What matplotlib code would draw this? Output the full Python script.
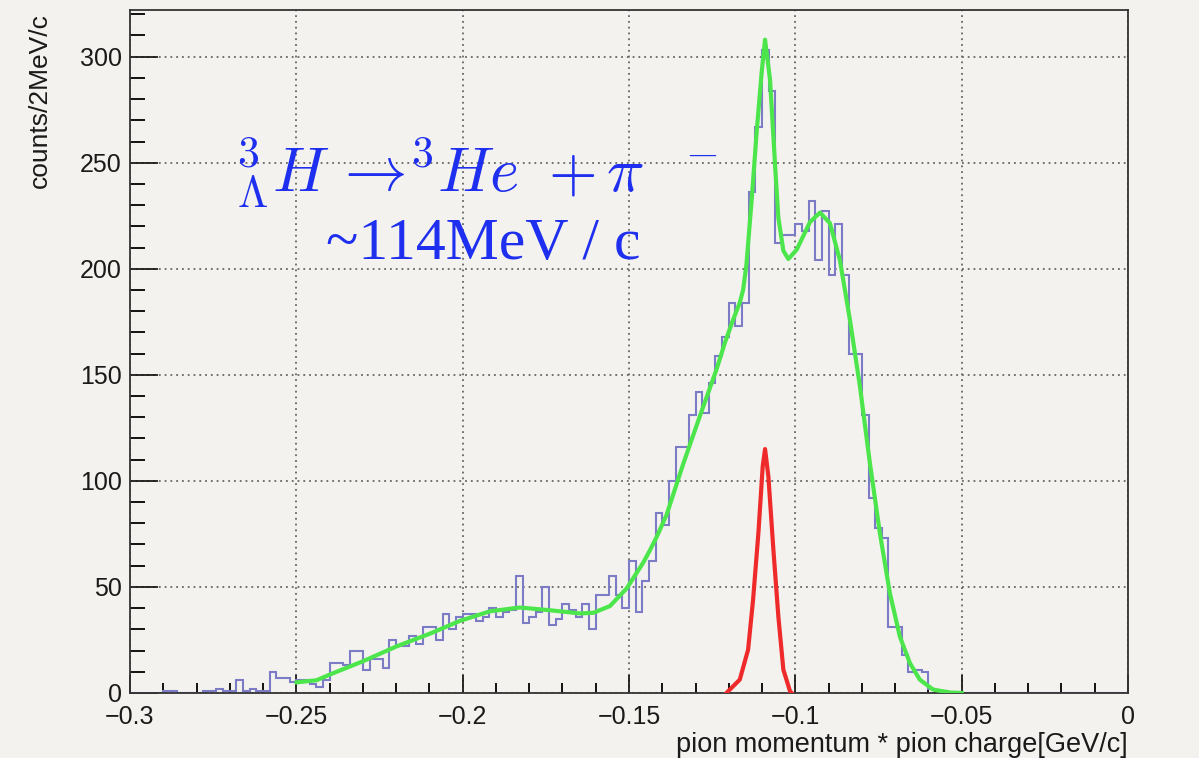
import numpy as np
import matplotlib.pyplot as plt
from matplotlib.ticker import MultipleLocator

# histogram: 150 bins of 2 MeV/c from -0.3 to 0 GeV/c
x_lo, x_hi, n_bins = -0.3, 0.0, 150
counts = [
    0, 0, 0, 0, 0, 1, 1, 0, 0, 0,
    0, 1, 1, 2, 1, 1, 6, 1, 2, 1,
    1, 10, 7, 7, 5, 6, 6, 4, 3, 6,
    14, 14, 13, 20, 20, 11, 16, 16, 12, 25,
    22, 22, 27, 23, 31, 31, 25, 37, 30, 36,
    37, 37, 34, 36, 40, 36, 38, 39, 55, 33,
    36, 38, 50, 32, 35, 42, 39, 36, 42, 30,
    46, 46, 55, 46, 40, 62, 38, 53, 62, 85,
    79, 100, 116, 116, 131, 142, 132, 146, 159, 168,
    184, 173, 184, 236, 267, 303, 284, 212, 216, 216,
    221, 218, 232, 204, 227, 197, 221, 197, 160, 160,
    131, 92, 78, 73, 31, 31, 18, 10, 11, 10,
    2, 1, 1, 0, 0, 0, 0, 0, 0, 0,
    0, 0, 0, 0, 0, 0, 0, 0, 0, 0,
    0, 0, 0, 0, 0, 0, 0, 0, 0, 0,
]

# total fit (green)
fit_x = [-0.2499, -0.2439, -0.2399, -0.2299, -0.2198, -0.2098, -0.2008, -0.1918,
         -0.1828, -0.1738, -0.1647, -0.1607, -0.1557, -0.1507, -0.1457, -0.1437,
         -0.1417, -0.1387, -0.1337, -0.1287, -0.1237, -0.1212, -0.1187, -0.1167,
         -0.1157, -0.1147, -0.1131, -0.1116, -0.1101, -0.1091, -0.1076, -0.1061,
         -0.1051, -0.1036, -0.1021, -0.0996, -0.0956, -0.0926, -0.0896, -0.0866,
         -0.0836, -0.0806, -0.0776, -0.0746, -0.0716, -0.0686, -0.0656, -0.0626,
         -0.0586, -0.0535, -0.0500]
fit_y = [5.0, 6.0, 8.7, 15.0, 22.0, 28.0, 34.0, 38.5,
         40.3, 39.0, 37.5, 37.8, 41.0, 49.3, 61.5, 67.3,
         73.5, 84.0, 108.0, 130.5, 152.5, 165.0, 176.0, 184.0,
         190.0, 202.0, 233.0, 265.0, 293.0, 308.0, 289.0, 249.0,
         224.0, 208.5, 204.6, 209.0, 222.0, 226.5, 221.5, 204.0,
         176.0, 144.7, 108.5, 75.5, 47.2, 26.7, 14.2, 6.3,
         1.6, 0.2, 0.0]

# hypertriton signal peak (red)
sig_x = [-0.1207, -0.1167, -0.1142, -0.1127, -0.1111, -0.1098, -0.1091,
         -0.1081, -0.1066, -0.1051, -0.1036, -0.1016, -0.1011]
sig_y = [0.0, 6.3, 20.4, 44.0, 75.5, 107.0, 115.0,
         102.0, 67.6, 36.0, 11.0, 0.8, 0.0]

bg = '#f4f2ee'
plt.rcParams['font.family'] = ['Liberation Sans', 'DejaVu Sans']

fig = plt.figure(figsize=(11.99, 7.58), dpi=100, facecolor=bg)
ax = fig.add_axes([0.1084, 0.0858, 0.8324, 0.901])
ax.set_facecolor(bg)

edges = np.linspace(x_lo, x_hi, n_bins + 1)
ax.stairs(counts, edges, color='#7c7cc6', lw=1.5, baseline=None, zorder=2.2)
ax.plot(fit_x, fit_y, color='#4ce64c', lw=3, zorder=4, solid_joinstyle='round')
ax.plot(sig_x, sig_y, color='#ee2a2a', lw=3, zorder=4, solid_joinstyle='round')

ax.set_xlim(x_lo, x_hi)
ax.set_ylim(0, 322)

ax.xaxis.set_major_locator(MultipleLocator(0.05))
ax.xaxis.set_minor_locator(MultipleLocator(0.01))
ax.yaxis.set_major_locator(MultipleLocator(50))
ax.yaxis.set_minor_locator(MultipleLocator(10))
ax.set_xticks(np.arange(-0.3, 0.001, 0.05))
ax.set_xticklabels(['\u22120.3', '\u22120.25', '\u22120.2', '\u22120.15', '\u22120.1', '\u22120.05', '0'])

ax.tick_params(axis='x', which='major', direction='in', length=13, width=1.3, labelsize=18, pad=9, colors='#1a1a1a')
ax.tick_params(axis='x', which='minor', direction='in', length=7, width=1.3)
ax.tick_params(axis='y', which='major', direction='in', length=20, width=1.3, labelsize=18, pad=6, colors='#1a1a1a')
ax.tick_params(axis='y', which='minor', direction='in', length=11, width=1.3)

ax.grid(True, which='major', color='#666666', lw=1.3, linestyle=(0, (1, 2.2)), zorder=1)
for s in ax.spines.values():
    s.set_linewidth(1.3)
    s.set_color('#333333')
    s.set_zorder(3)

ax.set_xlabel('pion momentum * pion charge[GeV/c]', fontsize=19.5, loc='right', color='#1a1a1a')
ax.xaxis.set_label_coords(1.0, -0.057)
ax.set_ylabel('counts/2MeV/c', fontsize=19, loc='top', color='#1a1a1a')
ax.yaxis.set_label_coords(-0.078, 0.995)

# decay annotation
ax.text(0.105, 0.735,
        r'${}^{3}_{\Lambda}H\,{\rightarrow}\!{}^{3}He\;\;{+}\,\pi^{\;\;\;-}$',
        transform=ax.transAxes, fontsize=45, color='#1f2ff0',
        math_fontfamily='cm', ha='left', va='baseline')
ax.text(0.196, 0.636, '~114MeV / c', transform=ax.transAxes,
        fontsize=43, color='#1f2ff0', family='Liberation Serif',
        ha='left', va='baseline')

fig.savefig('out.png', dpi=100, facecolor=bg)
